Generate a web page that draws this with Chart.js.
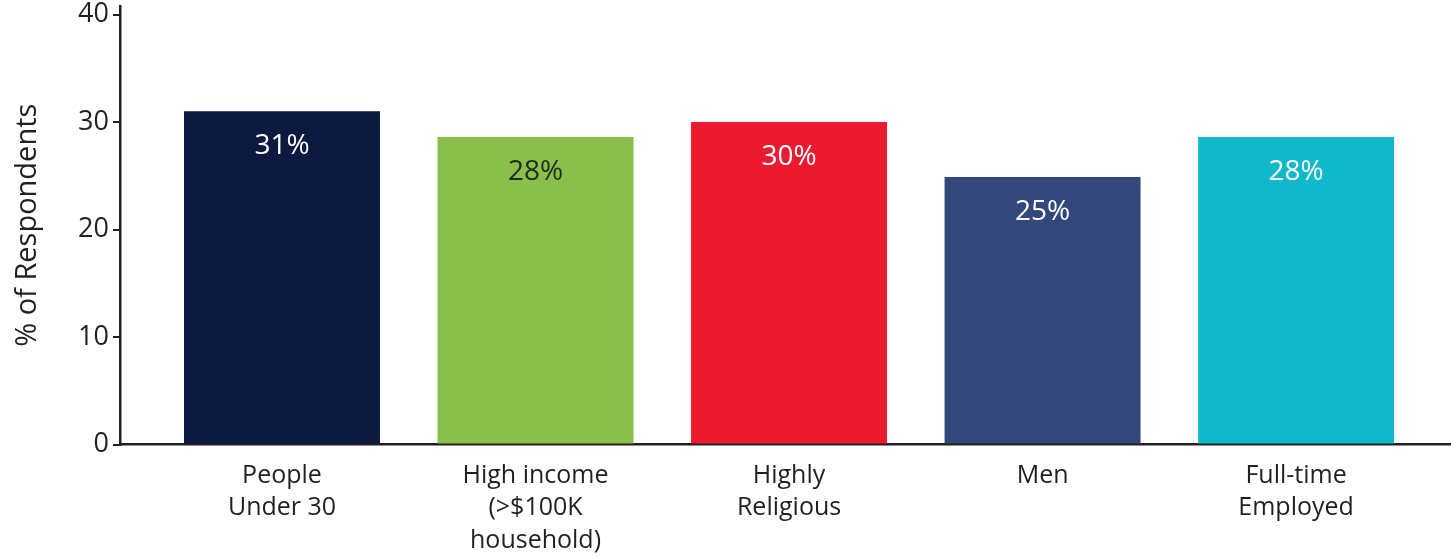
<!DOCTYPE html>
<html>
<head>
<meta charset="utf-8">
<script src="https://cdn.jsdelivr.net/npm/chart.js@4"></script>
<style>
  html, body { margin: 0; padding: 0; background: #ffffff; }
  #wrap { width: 1451px; height: 557px; position: relative; }
</style>
</head>
<body>
<div id="wrap"><canvas id="c" width="1451" height="557"></canvas></div>
<script>
const categories = [
  ["People", "Under 30"],
  ["High income", "(>$100K", "household)"],
  ["Highly", "Religious"],
  ["Men"],
  ["Full-time", "Employed"]
];
const values = [31, 28.6, 30, 24.9, 28.6];
const valueLabels = ["31%", "28%", "30%", "25%", "28%"];
const yTicks = [0, 10, 20, 30, 40];

const barColors = ["#0c1a40", "#8bbf4b", "#ec1a2e", "#33477b", "#10b8c9"];
const labelColors = ["#ffffff", "#1f2a1a", "#ffffff", "#ffffff", "#ffffff"];
const FONT = "'Open Sans', 'Noto Sans', sans-serif";
const INK = "#231f20";

const valueLabelPlugin = {
  id: 'valueLabels',
  afterDatasetsDraw(chart) {
    const ctx = chart.ctx;
    const meta = chart.getDatasetMeta(0);
    ctx.save();
    ctx.font = "28px " + FONT;
    ctx.textAlign = "center";
    ctx.textBaseline = "middle";
    meta.data.forEach((bar, i) => {
      ctx.fillStyle = labelColors[i];
      ctx.fillText(valueLabels[i], bar.x, bar.y + 35);
    });
    ctx.restore();
  }
};

function zeroPad(scale) {
  scale.paddingTop = 0; scale.paddingBottom = 0;
  scale.paddingLeft = 0; scale.paddingRight = 0;
}

new Chart(document.getElementById('c'), {
  type: 'bar',
  data: {
    datasets: [{
      data: values.map((v, i) => ({ x: i, y: v })),
      backgroundColor: barColors,
      borderWidth: 0,
      categoryPercentage: 1.0,
      barPercentage: 0.773
    }]
  },
  options: {
    responsive: false,
    animation: false,
    layout: { padding: { top: 6, right: 0, left: 0, bottom: 0 } },
    plugins: { legend: { display: false }, tooltip: { enabled: false } },
    scales: {
      x: {
        type: 'linear',
        offset: false,
        min: -0.639,
        max: 4.611,
        afterBuildTicks(scale) {
          scale.ticks = categories.map((_, i) => ({ value: i }));
        },
        afterFit(scale) { scale.height = 112.5; zeroPad(scale); },
        grid: { display: false, drawTicks: false },
        border: { display: true, color: INK, width: 2.5 },
        ticks: {
          padding: 15,
          autoSkip: false,
          maxRotation: 0,
          color: INK,
          font: { family: FONT, size: 25, lineHeight: 1.3 },
          callback: (v) => categories[v] || ''
        }
      },
      y: {
        min: 0,
        max: 40.8,
        afterBuildTicks(scale) {
          scale.ticks = yTicks.map(v => ({ value: v }));
        },
        afterFit(scale) { scale.width = 120; zeroPad(scale); },
        grid: { drawOnChartArea: false, drawTicks: true, tickLength: 7, color: INK, lineWidth: 2 },
        border: { display: true, color: INK, width: 2.5 },
        ticks: {
          padding: 4,
          color: INK,
          font: { family: FONT, size: 27 }
        },
        title: {
          display: true,
          text: "% of Respondents",
          color: INK,
          font: { family: FONT, size: 29 },
          padding: { top: 10, bottom: 0 }
        }
      }
    }
  },
  plugins: [valueLabelPlugin]
});
</script>
</body>
</html>
